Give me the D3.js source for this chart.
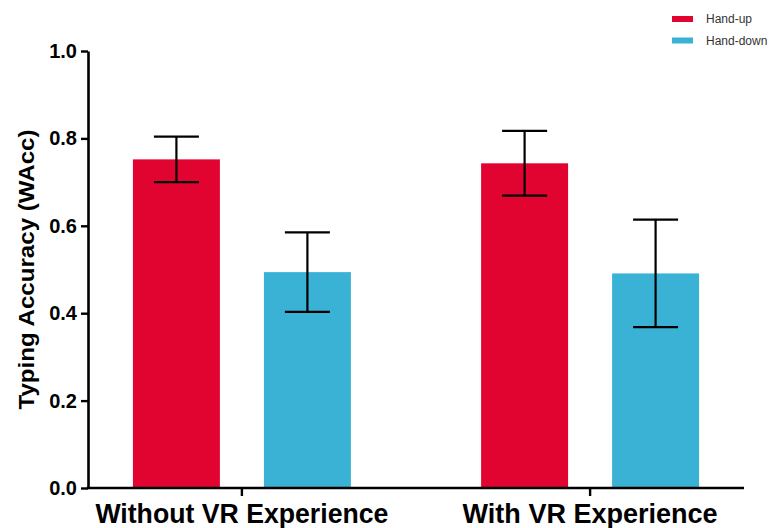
<!DOCTYPE html>
<html>
<head>
<meta charset="utf-8">
<style>
body { margin: 0; background: #fff; }
svg { display: block; font-family: 'Liberation Sans', Arial, sans-serif; }
</style>
</head>
<body>
<svg width="773" height="528"></svg>
<script src="https://cdn.jsdelivr.net/npm/d3@7"></script>
<script>
// chart values
const groups = ['Without VR Experience', 'With VR Experience'];
const series = ['Hand-up', 'Hand-down'];
const colors = ['#e10431', '#39b2d6'];
const means = [
    [0.752, 0.494],
    [0.743, 0.491],
];
const errors = [
    [0.052, 0.091],
    [0.074, 0.123],
];
const yTicks = [0, 0.2, 0.4, 0.6, 0.8, 1.0];

const svg = d3.select('svg');

const x0 = d3.scaleBand()
    .domain(groups)
    .range([88, 744])
    .paddingInner(0.374)
    .paddingOuter(0.129);

const x1 = d3.scaleBand()
    .domain(series)
    .range([0, x0.bandwidth()])
    .paddingInner(0.336);

const y = d3.scaleLinear()
    .domain([0, 1])
    .range([488, 51]);

const color = d3.scaleOrdinal().domain(series).range(colors);

// bars + error bars
const rows = [];
groups.forEach((g, gi) => {
    series.forEach((s, si) => {
        rows.push({group: g, series: s, mean: means[gi][si], err: errors[gi][si]});
    });
});

const bar = svg.append('g')
    .selectAll('g')
    .data(rows)
    .join('g')
    .attr('transform', d => `translate(${x0(d.group) + x1(d.series)},0)`);

bar.append('rect')
    .attr('x', 0)
    .attr('y', d => y(d.mean))
    .attr('width', x1.bandwidth())
    .attr('height', d => y(0) - y(d.mean))
    .attr('fill', d => color(d.series));

const capHalf = 22.5;
const errG = bar.append('g')
    .attr('transform', `translate(${x1.bandwidth() / 2},0)`)
    .attr('stroke', '#000')
    .attr('stroke-width', 2.2);

errG.append('line')
    .attr('y1', d => y(d.mean + d.err))
    .attr('y2', d => y(d.mean - d.err));
errG.append('line')
    .attr('x1', -capHalf).attr('x2', capHalf)
    .attr('y1', d => y(d.mean + d.err))
    .attr('y2', d => y(d.mean + d.err));
errG.append('line')
    .attr('x1', -capHalf).attr('x2', capHalf)
    .attr('y1', d => y(d.mean - d.err))
    .attr('y2', d => y(d.mean - d.err));

// y axis
const yAxis = svg.append('g')
    .attr('transform', 'translate(88,0)')
    .call(d3.axisLeft(y).tickValues(yTicks).tickFormat(d3.format('.1f')).tickSize(7).tickSizeOuter(0).tickPadding(4));

yAxis.select('.domain').attr('stroke-width', 2.6).attr('stroke', '#000');
yAxis.selectAll('.tick line').attr('stroke-width', 2.4).attr('stroke', '#000');
yAxis.selectAll('.tick text')
    .attr('font-family', "'Liberation Sans', Arial, sans-serif")
    .attr('font-size', 20)
    .attr('font-weight', 'bold')
    .attr('fill', '#000');

// x axis
const xAxis = svg.append('g')
    .attr('transform', 'translate(0,488)')
    .call(d3.axisBottom(x0).tickSize(8).tickSizeOuter(0));

xAxis.select('.domain').attr('stroke-width', 2.6).attr('stroke', '#000').attr('d', 'M86.7,0H744');
xAxis.selectAll('.tick line').attr('stroke-width', 2.4).attr('stroke', '#000');
xAxis.selectAll('.tick text')
    .attr('font-family', "'Liberation Sans', Arial, sans-serif")
    .attr('font-size', 27)
    .attr('font-weight', 'bold')
    .attr('fill', '#000')
    .attr('y', 35)
    .attr('dy', 0)
    .attr('textLength', 293)
    .attr('lengthAdjust', 'spacingAndGlyphs');

xAxis.selectAll('.tick text')
    .filter(d => d === 'With VR Experience')
    .attr('textLength', 255);

// y axis title
svg.append('text')
    .attr('transform', `translate(33.5,${(y(0) + y(1)) / 2}) rotate(-90)`)
    .attr('text-anchor', 'middle')
    .attr('font-size', 22)
    .attr('font-weight', 'bold')
    .attr('fill', '#000')
    .attr('textLength', 280)
    .attr('lengthAdjust', 'spacingAndGlyphs')
    .text('Typing Accuracy (WAcc)');

// legend
const legend = svg.append('g')
    .selectAll('g')
    .data(series)
    .join('g')
    .attr('transform', (d, i) => `translate(672,${16 + i * 21.5})`);

legend.append('rect')
    .attr('width', 21)
    .attr('height', 6)
    .attr('fill', d => color(d));

legend.append('text')
    .attr('x', 34)
    .attr('y', 3)
    .attr('dy', '0.35em')
    .attr('font-size', 12)
    .attr('fill', '#333')
    .text(d => d);
</script>
</body>
</html>
